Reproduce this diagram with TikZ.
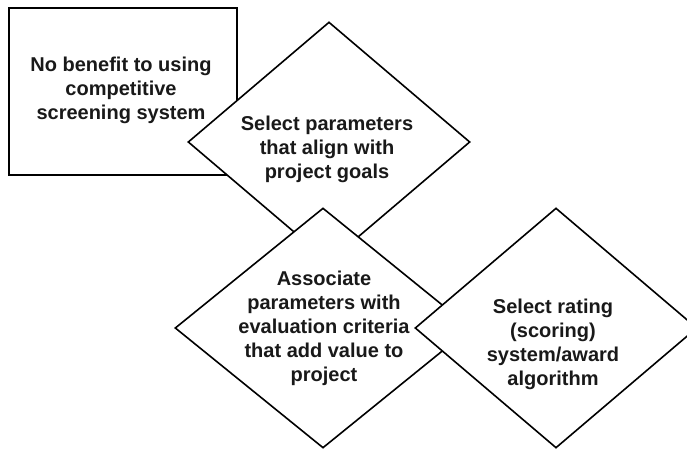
\documentclass[tikz,border=0pt]{standalone}
\usepackage{fontspec}
\setmainfont{Liberation Sans}
\usetikzlibrary{shapes.geometric}

\tikzset{
    stepdiamond/.style={draw=black, fill=white, line width=1.6pt, diamond,
        inner sep=0pt, minimum width=282pt, minimum height=240pt},
    steptext/.style={align=center, font=\bfseries\fontsize{20}{24}\selectfont,
        text=black!90}
}

\begin{document}
\begin{tikzpicture}[x=1pt, y=-1pt]
    \useasboundingbox (0,0) rectangle (687,449);
    \clip (0,0) rectangle (687,449);

    \draw[line width=1.6pt, fill=white] (9,8) rectangle (237,175);
    \node (nobenefit) at (121,90) {};
    \node[steptext] (nobenefittext) at (nobenefit)
        {No benefit to using\\competitive\\screening system};

    \node[stepdiamond] (params) at (329,142) {};
    \node[steptext] (paramstext) at (327,149)
        {Select parameters\\that align with\\project goals};

    \node[stepdiamond, minimum width=296pt] (criteria) at (323,328) {};
    \node[steptext] (criteriatext) at (324,328)
        {Associate\\parameters with\\evaluation criteria\\that add value to\\project};

    \node[stepdiamond] (rating) at (556,328) {};
    \node[steptext] (ratingtext) at (553,344)
        {Select rating\\(scoring)\\system/award\\algorithm};
\end{tikzpicture}
\end{document}
